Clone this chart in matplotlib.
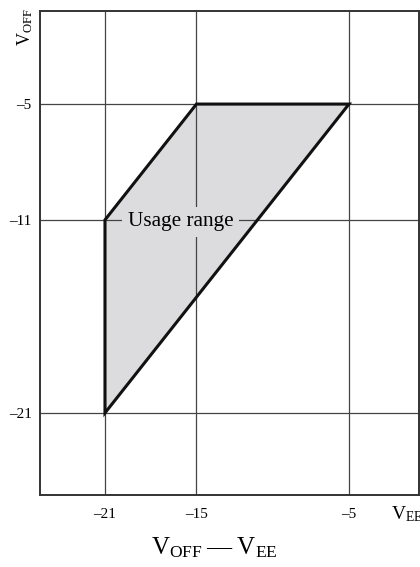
import matplotlib.pyplot as plt
from matplotlib.patches import Polygon

plt.rcParams['font.family'] = ['Liberation Serif', 'DejaVu Serif']
plt.rcParams['mathtext.fontset'] = 'custom'
plt.rcParams['mathtext.rm'] = 'Liberation Serif'
plt.rcParams['mathtext.it'] = 'Liberation Serif:italic'

# usage range corners (V_EE, V_OFF)
vee = [-21, -15, -5, -21]
voff = [-11, -5, -5, -21]
xticks = [-21, -15, -5]
yticks = [-5, -11, -21]
fill_col = '#dcdcde'

fig = plt.figure(figsize=(4.2, 5.67), dpi=100)
ax = fig.add_axes([40 / 420, 1 - 495 / 567, 379 / 420, 484 / 567])

# fill under the grid, outline on top
ax.add_patch(Polygon(list(zip(vee, voff)), closed=True, facecolor=fill_col,
                     edgecolor='none', zorder=1))
ax.add_patch(Polygon(list(zip(vee, voff)), closed=True, facecolor='none',
                     edgecolor='#111111', linewidth=2.2, zorder=3,
                     joinstyle='miter'))

ax.set_xlim(-25.26, -0.41)
ax.set_ylim(-25.25, -0.18)
ax.set_xticks(xticks)
ax.set_yticks(yticks)
ax.set_xticklabels(['\u201321', '\u201315', '\u20135'])
ax.set_yticklabels(['\u20135', '\u201311', '\u201321'])
ax.tick_params(length=0, labelsize=11)
ax.tick_params(axis='x', pad=9.5)
ax.tick_params(axis='y', pad=6)
ax.set_axisbelow(False)
ax.grid(True, color='#444444', linewidth=0.9, zorder=2)
for sp in ax.spines.values():
    sp.set_linewidth(1.4)
    sp.set_color('#333333')
    sp.set_zorder(5)

ax.text(-16.05, -11.1, 'Usage range', fontsize=15.3, ha='center', va='center',
        zorder=4, bbox=dict(facecolor=fill_col, edgecolor='none', pad=4))

fig.text(391 / 420, 1 - 514 / 567, r'$\mathrm{V}_{\mathrm{EE}}$',
         fontsize=14, ha='left', va='center')
fig.text(25 / 420, 1 - 27 / 567, r'$\mathrm{V}_{\mathrm{OFF}}$',
         fontsize=13, ha='center', va='center', rotation=90)
fig.text(214 / 420, 1 - 548 / 567,
         r'$\mathrm{V}_{\mathrm{OFF}}$' + '\u2009\u2014\u2009' + r'$\mathrm{V}_{\mathrm{EE}}$',
         fontsize=18, ha='center', va='center')

fig.savefig('out.png', dpi=100)
